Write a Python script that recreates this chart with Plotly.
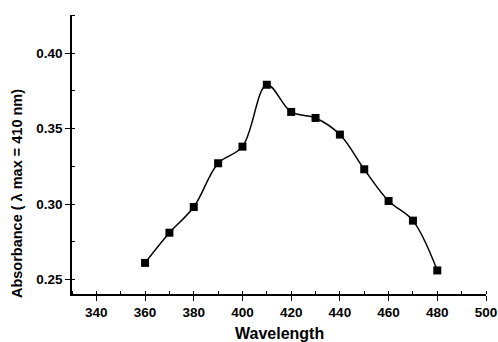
import plotly.graph_objects as go

wavelength = [360, 370, 380, 390, 400, 410, 420, 430, 440, 450, 460, 470, 480]
absorbance = [0.261, 0.281, 0.298, 0.327, 0.338, 0.379, 0.361, 0.357, 0.346, 0.323, 0.302, 0.289, 0.256]

x_ticks = [340, 360, 380, 400, 420, 440, 460, 480, 500]
y_ticks = [0.25, 0.30, 0.35, 0.40]

font_family = "Liberation Sans, Arial, sans-serif"

fig = go.Figure()
fig.add_trace(go.Scatter(
    x=wavelength, y=absorbance,
    mode="lines+markers",
    line=dict(color="black", width=1.5, shape="spline", smoothing=1.0),
    marker=dict(symbol="square", size=8, color="black"),
    showlegend=False,
))

fig.update_layout(
    width=498, height=342,
    margin=dict(l=72, r=12, t=15, b=48, autoexpand=False),
    paper_bgcolor="white", plot_bgcolor="white",
    font=dict(family=font_family, color="black"),
    xaxis=dict(
        range=[330, 500], tickvals=x_ticks, ticktext=[str(v) for v in x_ticks],
        showgrid=False, zeroline=False, automargin=False,
        showline=True, linecolor="black", linewidth=1.5,
        ticks="outside", ticklen=5, tickwidth=1.2, tickcolor="black",
        minor=dict(ticks="inside", dtick=10, tick0=330, ticklen=3, tickwidth=1, tickcolor="black"),
        tickfont=dict(size=13.5, family=font_family, weight="bold"),
    ),
    yaxis=dict(
        range=[0.2404, 0.4252], tickvals=y_ticks, ticktext=["0.25", "0.30", "0.35", "0.40"],
        showgrid=False, zeroline=False, automargin=False,
        showline=True, linecolor="black", linewidth=1.5,
        ticks="outside", ticklen=5, tickwidth=1.2, tickcolor="black",
        minor=dict(ticks="inside", dtick=0.025, tick0=0.25, ticklen=3, tickwidth=1, tickcolor="black"),
        tickfont=dict(size=13.5, family=font_family, weight="bold"),
    ),
    annotations=[
        dict(
            text="<b>Absorbance ( λ max = 410 nm)</b>",
            xref="paper", yref="paper", x=0, y=0.437,
            xanchor="center", yanchor="middle", xshift=-55, yshift=-22,
            textangle=-90, showarrow=False,
            font=dict(size=14.5, family=font_family, color="black"),
        ),
        dict(
            text="<b>Wavelength</b>",
            xref="paper", yref="paper", x=0.5, y=0,
            xanchor="center", yanchor="middle", yshift=-39,
            showarrow=False,
            font=dict(size=16, family=font_family, color="black"),
        ),
    ],
)

fig.write_html("out.html", config={"displayModeBar": False},
               post_script="document.body.style.margin='0';document.body.style.overflow='hidden';")
